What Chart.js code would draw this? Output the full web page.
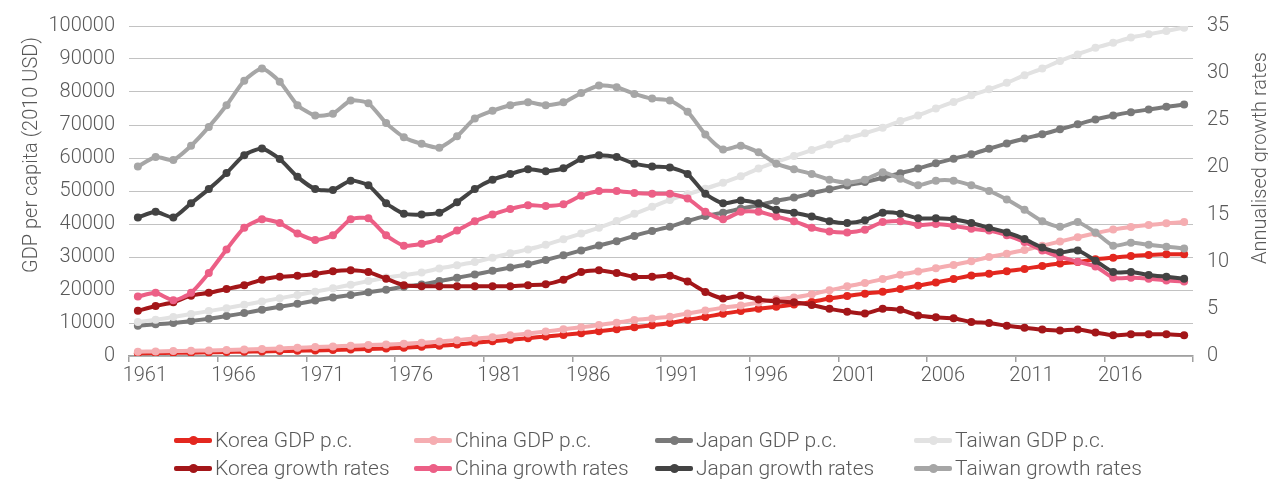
<!DOCTYPE html>
<html>
<head>
<meta charset="utf-8">
<script src="https://cdn.jsdelivr.net/npm/chart.js@4.4.1/dist/chart.umd.min.js"></script>
<style>
  body { margin: 0; background: #fff; font-family: Roboto, sans-serif; }
  #wrap { position: relative; width: 1268px; height: 482px; }
  #chartBox { position: absolute; left: 0; top: 0; width: 1268px; height: 400px; }
  #legend { position: absolute; left: 0; top: 0; width: 1268px; height: 482px; pointer-events: none; }
  .item { position: absolute; display: flex; align-items: center; height: 24px; color: #595959;
          font-size: 21px; font-weight: 300; white-space: nowrap; }
  .swatch { position: relative; width: 38px; height: 24px; margin-right: 3px; }
  .swatch .bar { position: absolute; left: 0; right: 0; top: 10px; height: 5px; border-radius: 2px; }
  .swatch .dot { position: absolute; left: 15px; top: 8px; width: 9px; height: 9px; border-radius: 50%; }
</style>
</head>
<body>
<div id="wrap">
  <div id="chartBox"><canvas id="lineChart"></canvas></div>
  <div id="legend"></div>
</div>
<script>
const years = ['1961','1962','1963','1964','1965','1966','1967','1968','1969','1970',
    '1971','1972','1973','1974','1975','1976','1977','1978','1979','1980',
    '1981','1982','1983','1984','1985','1986','1987','1988','1989','1990',
    '1991','1992','1993','1994','1995','1996','1997','1998','1999','2000',
    '2001','2002','2003','2004','2005','2006','2007','2008','2009','2010',
    '2011','2012','2013','2014','2015','2016','2017','2018','2019','2020'];

// GDP per capita (2010 USD), left axis
const koreaGdp = [800, 900, 950, 1000, 1100, 1200, 1300, 1400, 1500, 1600, 1700, 1850, 2000, 2150, 2300, 2500,
    2800, 3100, 3500, 4000, 4500, 4900, 5400, 5900, 6400, 6900, 7500, 8100, 8700, 9300,
    10000, 11000, 11800, 12800, 13600, 14300, 14900, 15600, 16400, 17400, 18200, 18900, 19500, 20300, 21300,
    22300, 23300, 24400, 24900, 25700, 26400, 27300, 28000, 28500, 29300, 29800, 30300, 30600, 30800, 30800];
const chinaGdp = [1300, 1400, 1500, 1600, 1700, 1800, 2000, 2100, 2300, 2500, 2700, 2900, 3100, 3300, 3500, 3700,
    4000, 4400, 4800, 5300, 5700, 6300, 6800, 7400, 8100, 8700, 9400, 10100, 10900, 11400,
    11900, 12900, 13800, 14600, 15300, 16200, 17200, 17700, 18700, 19900, 21100, 22100, 23300, 24600, 25600,
    26600, 27600, 28700, 30000, 31000, 32100, 33400, 34700, 36000, 37200, 38300, 39100, 39700, 40200, 40600];
const japanGdp = [9200, 9600, 10000, 10600, 11300, 12100, 13000, 14000, 14900, 15800, 16800, 17700, 18500, 19300, 20100, 21000,
    21700, 22700, 23700, 24700, 25800, 26800, 27800, 29100, 30500, 32000, 33500, 34800, 36400, 37900, 39200,
    40900, 42400, 43400, 44600, 45700, 47000, 48000, 49300, 50500, 51700, 52700, 54000, 55400, 56800, 58400,
    59800, 61100, 62800, 64400, 65900, 67200, 68700, 70200, 71700, 72900, 73900, 74700, 75500, 76200];
const taiwanGdp = [10300, 11000, 11800, 12700, 13600, 14500, 15500, 16500, 17500, 18500, 19500, 20500, 21600, 22700, 23800, 24500,
    25300, 26500, 27500, 28500, 29800, 31100, 32300, 33700, 35400, 37100, 38900, 40900, 43100, 45200, 47300,
    49000, 50700, 52500, 54500, 56800, 58800, 60600, 62400, 64100, 65900, 67500, 69200, 71200, 72900, 75000,
    77000, 79000, 80800, 82800, 85100, 87100, 89400, 91400, 93400, 94900, 96500, 97500, 98500, 99500];

// Annualised growth rates, right axis
const koreaGrowth = [4.8, 5.3, 5.7, 6.4, 6.7, 7.1, 7.5, 8.1, 8.4, 8.5, 8.7, 9.0, 9.1, 8.9, 8.2, 7.5,
    7.4, 7.4, 7.4, 7.4, 7.4, 7.4, 7.5, 7.6, 8.1, 8.9, 9.1, 8.8, 8.4, 8.4,
    8.5, 7.9, 6.8, 6.1, 6.4, 6.0, 5.8, 5.7, 5.4, 5.0, 4.7, 4.5, 5.0, 4.9, 4.3,
    4.1, 4.0, 3.6, 3.5, 3.2, 3.0, 2.8, 2.7, 2.8, 2.5, 2.2, 2.3, 2.3, 2.3, 2.2];
const chinaGrowth = [6.3, 6.7, 5.9, 6.7, 8.8, 11.3, 13.6, 14.5, 14.1, 13.0, 12.3, 12.8, 14.5, 14.6, 12.8, 11.7,
    11.9, 12.4, 13.3, 14.3, 15.0, 15.6, 16.0, 15.9, 16.1, 17.0, 17.5, 17.5, 17.3, 17.2, 17.2,
    16.7, 15.3, 14.5, 15.3, 15.3, 14.8, 14.3, 13.6, 13.2, 13.1, 13.4, 14.2, 14.3, 13.9, 14.0,
    13.8, 13.5, 13.3, 12.8, 12.1, 11.2, 10.5, 10.0, 9.5, 8.3, 8.3, 8.2, 8.0, 7.9];
const japanGrowth = [14.7, 15.3, 14.7, 16.2, 17.7, 19.4, 21.3, 22.0, 20.9, 19.0, 17.7, 17.6, 18.6, 18.1, 16.2, 15.1,
    15.0, 15.2, 16.3, 17.7, 18.7, 19.3, 19.8, 19.6, 19.9, 20.9, 21.3, 21.1, 20.4, 20.1, 20.0,
    19.3, 17.2, 16.2, 16.5, 16.2, 15.5, 15.2, 14.8, 14.3, 14.1, 14.4, 15.2, 15.1, 14.6, 14.6,
    14.5, 14.1, 13.6, 13.1, 12.4, 11.5, 11.0, 11.2, 10.1, 8.9, 8.9, 8.6, 8.4, 8.2];
const taiwanGrowth = [20.1, 21.1, 20.8, 22.3, 24.3, 26.6, 29.2, 30.5, 29.1, 26.6, 25.5, 25.7, 27.1, 26.8, 24.7, 23.2,
    22.5, 22.1, 23.3, 25.2, 26.0, 26.6, 26.9, 26.6, 26.9, 27.9, 28.7, 28.5, 27.8, 27.3, 27.1,
    25.9, 23.5, 21.9, 22.3, 21.6, 20.4, 19.8, 19.3, 18.7, 18.4, 18.7, 19.5, 18.8, 18.1, 18.6,
    18.6, 18.1, 17.5, 16.6, 15.5, 14.3, 13.7, 14.2, 13.1, 11.7, 12.0, 11.8, 11.6, 11.4];

const seriesNames = ['Korea GDP p.c.', 'China GDP p.c.', 'Japan GDP p.c.', 'Taiwan GDP p.c.',
    'Korea growth rates', 'China growth rates', 'Japan growth rates', 'Taiwan growth rates'];
const seriesData = [koreaGdp, chinaGdp, japanGdp, taiwanGdp, koreaGrowth, chinaGrowth, japanGrowth, taiwanGrowth];
const seriesColors = ['#e3271f', '#f5adb1', '#797979', '#e2e2e2', '#a31619', '#ec5f86', '#434343', '#a6a6a6'];

const textColor = '#595959';
Chart.defaults.font.family = 'Roboto';
Chart.defaults.font.weight = '300';
Chart.defaults.color = textColor;

const datasets = seriesData.map(function(data, i) {
    return {
        label: seriesNames[i],
        data: data,
        yAxisID: i < 4 ? 'y' : 'y1',
        borderColor: seriesColors[i],
        backgroundColor: seriesColors[i],
        pointBackgroundColor: seriesColors[i],
        borderWidth: 4,
        pointRadius: 4,
        pointBorderWidth: 0,
        tension: 0.2,
        order: 7 - i   // later series drawn on top
    };
});

// rotated axis titles, both reading bottom to top
const axisTitles = {
    id: 'axisTitles',
    afterDraw: function(chart) {
        const ctx = chart.ctx;
        ctx.save();
        ctx.fillStyle = textColor;
        ctx.font = '300 20px Roboto';
        ctx.textAlign = 'center';
        ctx.textBaseline = 'alphabetic';
        ctx.translate(37, 155);
        ctx.rotate(-Math.PI / 2);
        ctx.fillText('GDP per capita (2010 USD)', 0, 0);
        ctx.restore();

        ctx.save();
        ctx.fillStyle = textColor;
        ctx.font = '300 20px Roboto';
        ctx.textAlign = 'center';
        ctx.textBaseline = 'alphabetic';
        ctx.translate(1266, 158);
        ctx.rotate(-Math.PI / 2);
        ctx.fillText('Annualised growth rates', 0, 0);
        ctx.restore();
    }
};

const ctx = document.getElementById('lineChart').getContext('2d');
const chart = new Chart(ctx, {
    type: 'line',
    data: { labels: years, datasets: datasets },
    plugins: [axisTitles],
    options: {
        responsive: true,
        maintainAspectRatio: false,
        animation: false,
        devicePixelRatio: 1,
        layout: { padding: { top: 26, bottom: 10, left: 0, right: 0 } },
        plugins: {
            legend: { display: false },
            tooltip: { enabled: false }
        },
        scales: {
            x: {
                type: 'category',
                offset: true,
                afterFit: function(scale) { scale.height = 34; },
                border: { display: true, color: '#a0a0a0', width: 1.5 },
                grid: {
                    offset: true,
                    drawOnChartArea: false,
                    drawTicks: true,
                    tickLength: 6,
                    lineWidth: 1.5,
                    color: function(c) {
                        if (c.type !== 'tick') return '#a0a0a0';
                        return c.index % 5 === 0 ? '#a0a0a0' : 'rgba(0,0,0,0)';
                    }
                },
                ticks: {
                    autoSkip: false,
                    maxRotation: 0,
                    padding: 2,
                    labelOffset: 7,
                    font: { size: 20 },
                    callback: function(val, idx) {
                        return idx % 5 === 0 ? this.getLabelForValue(val) : '';
                    }
                }
            },
            y: {
                position: 'left',
                min: 0,
                max: 100000,
                afterFit: function(scale) { scale.width = 129; },
                border: { display: false },
                grid: { color: '#c2c2c2', lineWidth: 1, drawTicks: false },
                ticks: {
                    stepSize: 10000,
                    padding: 14,
                    font: { size: 20 },
                    callback: function(v) { return String(v); }
                }
            },
            y1: {
                position: 'right',
                min: 0,
                max: 35,
                afterFit: function(scale) { scale.width = 75; },
                border: { display: false },
                grid: { drawOnChartArea: false, drawTicks: false },
                ticks: {
                    stepSize: 5,
                    padding: 14,
                    font: { size: 20 },
                    callback: function(v) { return String(v); }
                }
            }
        }
    }
});

// HTML legend: two rows of four columns
const legendTextLefts = [215, 455, 696, 955];
const legendRows = [428, 456];
const legendBox = document.getElementById('legend');
chart.data.datasets.forEach(function(ds, i) {
    const item = document.createElement('div');
    item.className = 'item';
    item.style.left = (legendTextLefts[i % 4] - 41) + 'px';
    item.style.top = legendRows[Math.floor(i / 4)] + 'px';
    const sw = document.createElement('span');
    sw.className = 'swatch';
    const bar = document.createElement('span');
    bar.className = 'bar';
    bar.style.background = ds.borderColor;
    const dot = document.createElement('span');
    dot.className = 'dot';
    dot.style.background = ds.borderColor;
    sw.appendChild(bar);
    sw.appendChild(dot);
    const txt = document.createElement('span');
    txt.textContent = ds.label;
    item.appendChild(sw);
    item.appendChild(txt);
    legendBox.appendChild(item);
});
</script>
</body>
</html>
